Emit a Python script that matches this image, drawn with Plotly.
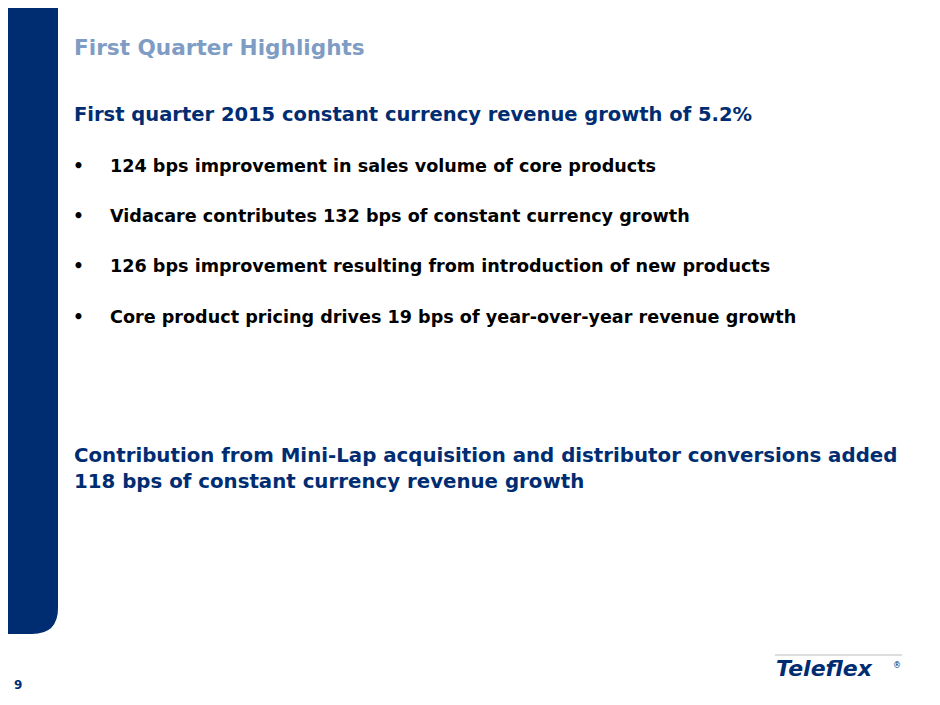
import plotly.graph_objects as go

NAVY = "#002D72"
title = "First Quarter Highlights"
headline = "First quarter 2015 constant currency revenue growth of 5.2%"
bullets = [
    "124 bps improvement in sales volume of core products",
    "Vidacare contributes 132 bps of constant currency growth",
    "126 bps improvement resulting from introduction of new products",
    "Core product pricing drives 19 bps of year-over-year revenue growth",
]
bullet_y = [166, 216, 266, 317]
closing = ["Contribution from Mini-Lap acquisition and distributor conversions added",
           "118 bps of constant currency revenue growth"]
page = "9"

# page is drawn with an 8px body offset, so shift the coordinate window
OFF = 8
fig = go.Figure()
fig.update_layout(
    width=940, height=705, margin=dict(l=0, r=0, t=0, b=0),
    paper_bgcolor="white", plot_bgcolor="white", showlegend=False,
    xaxis=dict(range=[OFF, 940 + OFF], visible=False, fixedrange=True),
    yaxis=dict(range=[705 + OFF, OFF], visible=False, fixedrange=True),
    font=dict(family="DejaVu Sans, sans-serif"),
)

# left navy bar with rounded bottom-right corner
fig.add_shape(type="path", xref="x", yref="y",
              path="M -20 -20 L 58 -20 L 58 608 Q 58 634 32 634 L -20 634 Z",
              fillcolor=NAVY, line=dict(width=0))

ann = []
ann.append(dict(x=72, y=47, text="<b>%s</b>" % title, font=dict(size=21.6, color="#7F9CC4")))
ann.append(dict(x=72, y=114, text="<b>%s</b>" % headline, font=dict(size=19.5, color=NAVY)))
for b, y in zip(bullets, bullet_y):
    ann.append(dict(x=71, y=y, text="<b>•</b>", font=dict(size=17, color="black")))
    ann.append(dict(x=108, y=y, text="<b>%s</b>" % b, font=dict(size=17.6, color="black")))
ann.append(dict(x=72, y=468, text="<b>%s<br>%s</b>" % tuple(closing),
                font=dict(size=19.8, color=NAVY)))
ann.append(dict(x=12, y=685, text="<b>%s</b>" % page, font=dict(size=12, color=NAVY)))
# logo
ann.append(dict(x=774, y=668, text="<b><i>Teleflex</i></b>", font=dict(size=22, color=NAVY)))
ann.append(dict(x=891, y=665, text="®", font=dict(size=8, color=NAVY)))
for a in ann:
    a.update(xref="x", yref="y", showarrow=False, xanchor="left", yanchor="middle", align="left")
fig.update_layout(annotations=ann)
fig.add_shape(type="line", x0=775, x1=902, y0=655, y1=655, line=dict(color="#BBBBBB", width=1))

fig.write_html("out.html")
